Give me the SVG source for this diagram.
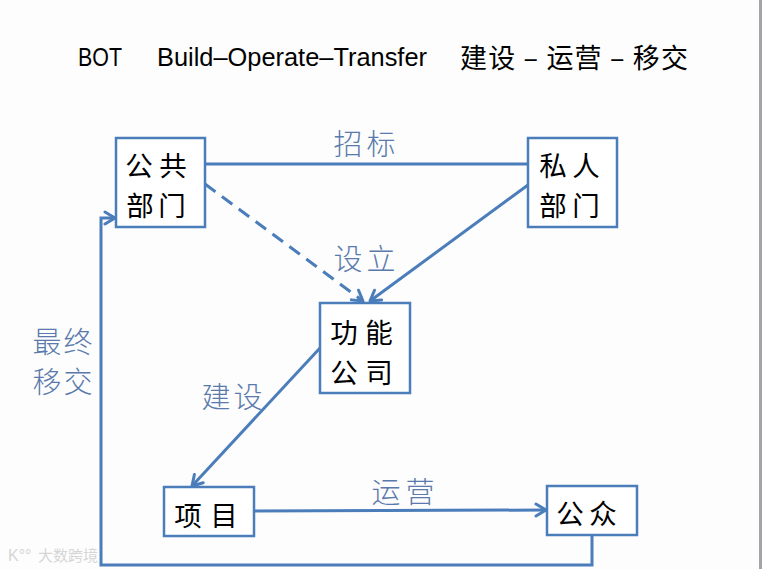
<svg xmlns="http://www.w3.org/2000/svg" width="762" height="569" viewBox="0 0 762 569">
<defs>
<marker id="arr" markerUnits="userSpaceOnUse" markerWidth="16" markerHeight="16" refX="12" refY="7" orient="auto" viewBox="0 0 16 14">
<path d="M2,1 L12,7 L2,13" fill="none" stroke="#4a7dba" stroke-width="3" stroke-linecap="round" stroke-linejoin="round"/>
</marker>
<style>
.box{fill:#ffffff;stroke:#4a7dba;stroke-width:2.5}
.nt{font-family:"Noto Sans CJK SC","Noto Sans CJK JP",sans-serif;font-size:27.5px;fill:#000;text-anchor:middle}
.lb{font-family:"Noto Sans CJK SC","Noto Sans CJK JP",sans-serif;font-size:29px;fill:#5a7aac;font-weight:300;text-anchor:middle}
.ln{fill:none;stroke:#4a7dba;stroke-width:3}
.ti{font-family:"Liberation Sans","Noto Sans CJK SC",sans-serif;font-size:26px;fill:#000}
.tc{font-family:"Noto Sans CJK SC","Noto Sans CJK JP",sans-serif;font-size:27px;fill:#000}
</style>
</defs>
<rect x="0" y="0" width="762" height="569" fill="#fdfdfd"/>
<rect x="759" y="0" width="3" height="569" fill="#a3a4a8"/>

<g id="title">
<text class="ti" x="78" y="66" textLength="44" lengthAdjust="spacingAndGlyphs">BOT</text>
<text class="ti" x="157" y="66" textLength="270" lengthAdjust="spacingAndGlyphs">Build–Operate–Transfer</text>
<text class="tc" x="460" y="68" textLength="228">建设 – 运营 – 移交</text>
</g>

<g id="connectors">
<line class="ln" x1="205" y1="164" x2="528" y2="164"/>
<line class="ln" x1="205" y1="184" x2="363" y2="301" stroke-dasharray="13 8" marker-end="url(#arr)"/>
<line class="ln" x1="528" y1="185" x2="370" y2="301" marker-end="url(#arr)"/>
<line class="ln" x1="320" y1="348" x2="192" y2="486" marker-end="url(#arr)"/>
<line class="ln" x1="254" y1="511" x2="546" y2="510" marker-end="url(#arr)"/>
<polyline class="ln" points="592,535 592,565 101,565 101,218 115,218" marker-end="url(#arr)"/>
</g>

<g id="labels">
<text class="lb" x="348 381" y="155">招标</text>
<text class="lb" x="348 381" y="270">设立</text>
<text class="lb" x="47 78" y="353">最终</text>
<text class="lb" x="47 78" y="393">移交</text>
<text class="lb" x="216 248" y="408">建设</text>
<text class="lb" x="386 420" y="503">运营</text>
</g>

<g id="node-public-sector">
<rect class="box" x="116" y="138" width="89" height="89"/>
<text class="nt" x="139 173" y="176">公共</text>
<text class="nt" x="140 172" y="216">部门</text>
</g>

<g id="node-private-sector">
<rect class="box" x="528" y="138" width="89" height="89"/>
<text class="nt" x="553 586" y="176">私人</text>
<text class="nt" x="553 586" y="216">部门</text>
</g>

<g id="node-spv">
<rect class="box" x="320" y="303" width="90" height="90"/>
<text class="nt" x="344 379" y="343">功能</text>
<text class="nt" x="344 379" y="383">公司</text>
</g>

<g id="node-project">
<rect class="box" x="164" y="487" width="90" height="49"/>
<text class="nt" x="188 224" y="526">项目</text>
</g>

<g id="node-the-public">
<rect class="box" x="547" y="486" width="90" height="49"/>
<text class="nt" x="570 603" y="524">公众</text>
</g>

<g id="watermark">
<text x="8" y="561" font-family="Liberation Sans, sans-serif" font-size="16" fill="#d6d6d6">K°°</text>
<text x="38" y="561" font-family="Noto Sans CJK SC, sans-serif" font-size="15" fill="#d6d6d6">大数跨境</text>
</g>
</svg>
